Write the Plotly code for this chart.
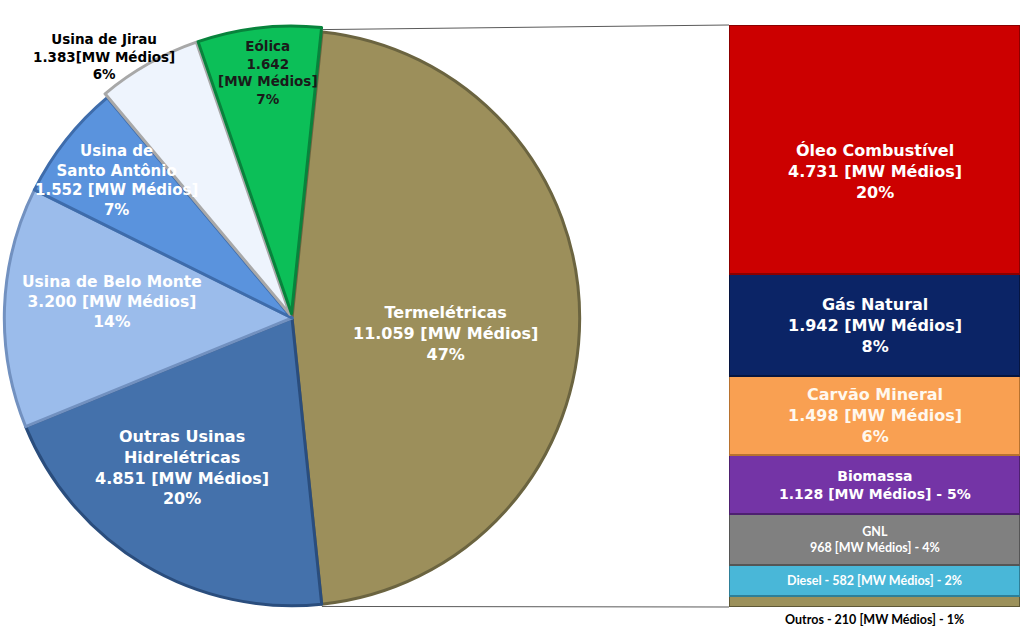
import math
import plotly.graph_objects as go

# ---------------- data ----------------
pie_labels = ["Termelétricas", "Outras Usinas Hidrelétricas", "Usina de Belo Monte",
              "Usina de Santo Antônio", "Usina de Jirau", "Eólica"]
pie_values = [11059, 4851, 3200, 1552, 1383, 1642]
pie_text = ["Termelétricas<br>11.059 [MW Médios]<br>47%",
            "Outras Usinas<br>Hidrelétricas<br>4.851 [MW Médios]<br>20%",
            "Usina de Belo Monte<br>3.200 [MW Médios]<br>14%",
            "Usina de<br>Santo Antônio<br>1.552 [MW Médios]<br>7%",
            "Usina de Jirau<br>1.383[MW Médios]<br>6%",
            "Eólica<br>1.642<br>[MW Médios]<br>7%"]

bar_labels = ["Óleo Combustível", "Gás Natural", "Carvão Mineral", "Biomassa",
              "GNL", "Diesel", "Outros"]
bar_values = [4731, 1942, 1498, 1128, 968, 582, 210]
bar_text = ["Óleo Combustível<br>4.731 [MW Médios]<br>20%",
            "Gás Natural<br>1.942 [MW Médios]<br>8%",
            "Carvão Mineral<br>1.498 [MW Médios]<br>6%",
            "Biomassa<br>1.128 [MW Médios] - 5%",
            "GNL<br>968 [MW Médios] - 4%",
            "Diesel - 582 [MW Médios] - 2%",
            "Outros - 210 [MW Médios] - 1%"]

# ---------------- styles ----------------
W, H = 1024, 639
pie_colors = ["#9C8F5B", "#4471AB", "#9BBCEB", "#5A93DD", "#EEF4FD", "#0CBF58"]
pie_edges = ["#6B6440", "#2A4D7D", "#7291C0", "#3E6CAB", "#A8A8A8", "#08833C"]
pie_pull = [0, 0, 0, 0, 0.015, 0.015]
bar_colors = ["#CC0000", "#0B2466", "#F9A052", "#7434A6", "#808080", "#49B7D8", "#9C915B"]
bar_edges = ["#8B0000", "#061540", "#B8722F", "#4E2070", "#555555", "#2E7F98", "#5E5836"]

FONT = "DejaVu Sans"
FONT2 = "Lato"

def px(x):
    return x / W

def py(y):
    return 1 - y / H

fig = go.Figure()

# pie
cx, cy, R = 292, 318, 292
fig.add_trace(go.Pie(
    labels=pie_labels, values=pie_values, sort=False, direction="clockwise",
    rotation=6, pull=pie_pull, textinfo="none", showlegend=False,
    marker=dict(colors=pie_colors, line=dict(color=pie_edges, width=3)),
    domain=dict(x=[px(cx - R), px(cx + R)], y=[py(cy + R), py(cy - R)]),
))

# stacked bar (bottom -> top)
bx0, bx1, by0, by1 = 729, 1020, 607, 25
total = sum(bar_values)
for lab, val, col, edge in reversed(list(zip(bar_labels, bar_values, bar_colors, bar_edges))):
    fig.add_trace(go.Bar(
        x=[0], y=[val], name=lab, width=[1], showlegend=False,
        marker=dict(color=col, line=dict(color=edge, width=2)),
        xaxis="x2", yaxis="y2",
    ))

fig.update_layout(
    width=W, height=H, margin=dict(l=0, r=0, t=0, b=0),
    paper_bgcolor="white", plot_bgcolor="rgba(0,0,0,0)",
    barmode="stack", bargap=0,
    xaxis2=dict(domain=[px(bx0), px(bx1)], range=[-0.5, 0.5], visible=False, anchor="y2"),
    yaxis2=dict(domain=[py(by0), py(by1)], range=[0, total], visible=False, anchor="x2"),
    xaxis=dict(visible=False), yaxis=dict(visible=False),
)

# connector lines from the Termelétricas slice edges to the bar ends
share = pie_values[0] / sum(pie_values)
a0 = math.radians(6)
a1 = math.radians(6 + 360 * share)
Rr = 290
for a, yb in [(a0, by1), (a1, by0)]:
    xs = cx + Rr * math.sin(a)
    ys = cy - Rr * math.cos(a)
    fig.add_shape(type="line", xref="paper", yref="paper",
                  x0=px(xs), y0=py(ys), x1=px(bx0), y1=py(yb),
                  line=dict(color="#5A5A5A", width=1))

# pie labels
pie_pos = [(445, 333), (182, 467), (112, 302), (116, 180), (104, 57), (268, 73)]
pie_fc = ["white", "white", "white", "white", "black", "#1A1A1A"]
pie_fs = [16, 16, 15.5, 15, 13.5, 13.5]
for t, (x, y), fc, fs in zip(pie_text, pie_pos, pie_fc, pie_fs):
    fig.add_annotation(x=px(x), y=py(y), xref="paper", yref="paper", text="<b>" + t + "</b>",
                       showarrow=False, font=dict(family=FONT, size=fs, color=fc),
                       xanchor="center", yanchor="middle", align="center")

# bar labels, positioned at segment midpoints in bar data units
cum = 0
mids = []
for v in reversed(bar_values):
    mids.append(cum + v / 2)
    cum += v
mids = list(reversed(mids))
bar_fam = [FONT, FONT, FONT, FONT, FONT2, FONT2, FONT2]
bar_fs = [16, 16, 16, 14, 12.5, 12.5, 12.5]
bar_fc = ["white", "white", "#FFF8EE", "white", "white", "white", "black"]
bar_shift = [-22, 0, 0, 0, 0, 0, 0]
for i, (t, m) in enumerate(zip(bar_text, mids)):
    if i == len(bar_text) - 1:
        fig.add_annotation(x=0, y=0, xref="x2", yref="y2", text="<b>" + t + "</b>",
                           showarrow=False, yanchor="top", yshift=-3,
                           font=dict(family=bar_fam[i], size=bar_fs[i], color=bar_fc[i]))
    else:
        fig.add_annotation(x=0, y=m, xref="x2", yref="y2", text="<b>" + t + "</b>",
                           showarrow=False, yanchor="middle", yshift=bar_shift[i],
                           font=dict(family=bar_fam[i], size=bar_fs[i], color=bar_fc[i]))

fig.write_html("out.html", config={"displayModeBar": False},
               post_script="document.body.style.margin='0';")
